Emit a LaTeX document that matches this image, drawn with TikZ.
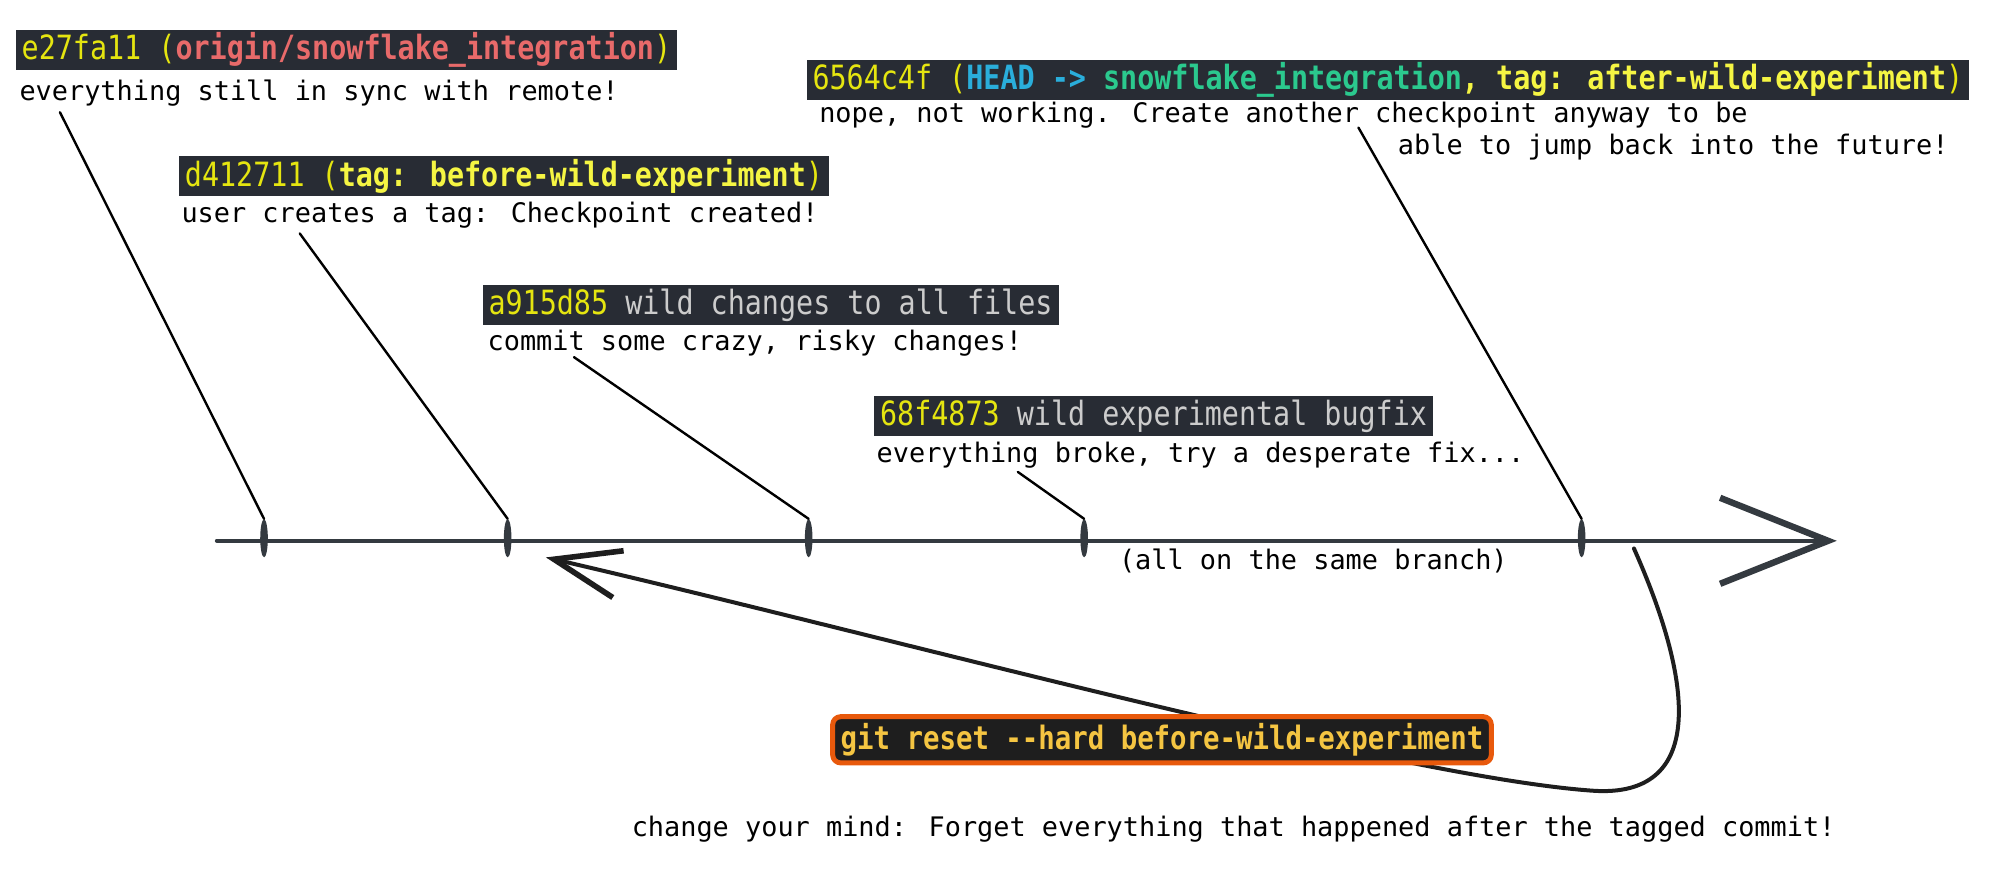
\documentclass[tikz,border=0pt]{standalone}
\usepackage{fontspec}
\usetikzlibrary{arrows.meta,shapes.geometric}
\newfontfamily\termfont[FakeStretch=0.85]{DejaVu Sans Mono}
\newfontfamily\handfont{DejaVu Sans Mono}
\definecolor{termbg}{HTML}{282C34}
\definecolor{hashyel}{HTML}{E5E510}
\definecolor{tagyel}{HTML}{F5F543}
\definecolor{remred}{HTML}{E86A6A}
\definecolor{headblue}{HTML}{2AAEDB}
\definecolor{brgreen}{HTML}{2BC98E}
\definecolor{msggray}{HTML}{CCCCCC}
\definecolor{axiscol}{HTML}{343A40}
\definecolor{resetorange}{HTML}{E8590C}
\definecolor{resetfill}{HTML}{1E1E1E}
\definecolor{resettext}{HTML}{F5C542}
\newcommand{\hsh}[1]{\textcolor{hashyel}{#1}}
\tikzset{
  term/.style={fill=termbg,anchor=west,inner xsep=3pt,inner ysep=0pt,minimum height=20pt,text=msggray,font=\termfont\fontsize{16.7}{18}\selectfont},
  note/.style={anchor=west,inner sep=0pt,text=black,font=\handfont\fontsize{13.45}{15}\selectfont},
  tick/.style={ellipse,fill=axiscol,minimum width=3.8pt,minimum height=19pt,inner sep=0pt},
  leader/.style={line width=1.2pt,black},
  resetbox/.style={draw=resetorange,line width=2.5pt,fill=resetfill,rounded corners=4pt,inner xsep=4pt,minimum height=21pt,text=resettext,font=\termfont\bfseries\fontsize{16.1}{18}\selectfont}
}
\begin{document}
\begin{tikzpicture}[line cap=round,line join=round,x=0.6378pt,y=-0.6378pt]
  \useasboundingbox (0,0) rectangle (1568,685.2);
  % terminal lines
  \node[term] (h1) at (12,39) {\hsh{e27fa11 (}\textbf{\textcolor{remred}{origin/snowflake\_integration}}\hsh{)}};
  \node[term] (h2) at (140,138) {\hsh{d412711 (}\textbf{\textcolor{tagyel}{tag: before-wild-experiment}}\hsh{)}};
  \node[term] (h3) at (378,239) {\hsh{a915d85} wild changes to all files\hspace{6pt}};
  \node[term] (h4) at (685,326) {\hsh{68f4873} wild experimental bugfix\hspace{12pt}};
  \node[term] (h5) at (632,63) {\hsh{6564c4f (}\textbf{\textcolor{headblue}{HEAD ->} \textcolor{brgreen}{snowflake\_integration}\textcolor{tagyel}{, tag: after-wild-experiment}}\hsh{)}};
  % notes
  \node[note] (n1) at (15,73) {everything still in sync with remote!};
  \node[note] (n2) at (142,169) {user creates a tag: Checkpoint created!};
  \node[note] (n3) at (382,269) {commit some crazy, risky changes!};
  \node[note] (n4) at (687,357) {everything broke, try a desperate fix...};
  \node[note] (n5) at (642,90) {nope, not working. Create another checkpoint anyway to be};
  \node[note,anchor=east] (n6) at (1528,115) {able to jump back into the future!};
  \node[note] (branch) at (877,440) {(all on the same branch)};
  \node[note] (mind) at (495,650) {change your mind: Forget everything that happened after the tagged commit!};
  % branch axis
  \coordinate (a0) at (170,424);
  \coordinate (a1) at (1440,424);
  \draw[axiscol,line width=2pt,-{Straight Barb[length=54pt,width=43pt,line width=3.2pt]}] (a0) -- (a1);
  \foreach \x [count=\i] in {207,398,634,850,1240}{
    \node[tick] (t\i) at (\x,422) {};
  }
  \coordinate (s1) at (47,88);
  \coordinate (s2) at (235,183);
  \coordinate (s3) at (450,280);
  \coordinate (s4) at (798,370);
  \coordinate (s5) at (1065,100);
  \foreach \i in {1,...,5}{
    \draw[leader] (s\i) -- (t\i.north);
  }
  % reset
  \coordinate (r0) at (1281,430);
  \coordinate (rb) at (1250,620);
  \coordinate (r1) at (428,437);
  \draw[resetfill,line width=2pt,-{Straight Barb[length=33pt,width=24pt,line width=2.8pt]}] (r0) .. controls (1330,540) and (1335,625) .. (rb) .. controls (1100,610) and (700,500) .. (r1);
  \node[resetbox] (reset) at (911,580) {git reset -{}-hard before-wild-experiment};
\end{tikzpicture}
\end{document}
